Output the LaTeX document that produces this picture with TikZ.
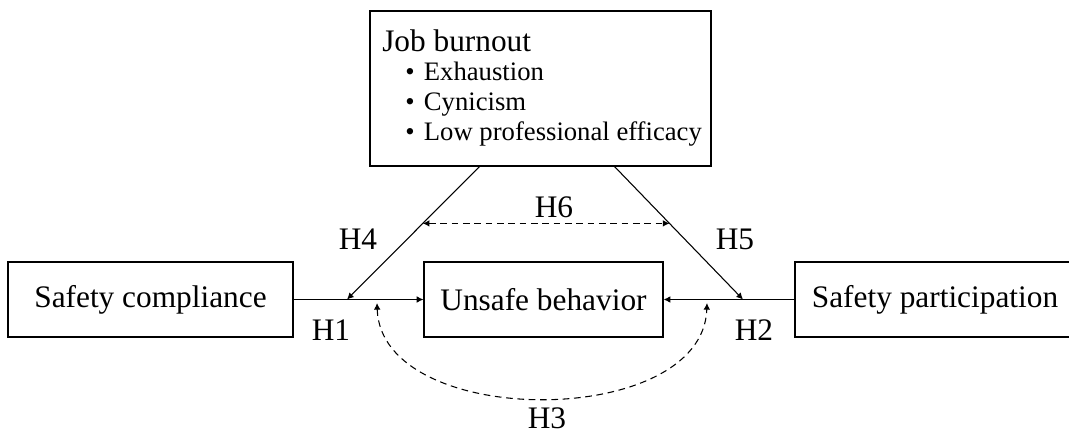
\documentclass[tikz,border=0pt]{standalone}
\usepackage{fontspec}
\setmainfont{Liberation Serif}
\usepackage{tikz}
\usetikzlibrary{arrows.meta}
\usetikzlibrary{positioning}
\usetikzlibrary{calc}

\begin{document}
\begin{tikzpicture} [x=0.75pt, y=-0.75pt,
      box/.style={draw, line width=0.9pt, inner sep=0pt, minimum height=56.25pt,
        font=\fontsize{23.5}{28}\selectfont},
      item/.style={anchor=base west, inner sep=0pt, font=\fontsize{20}{24}\selectfont},
      hlabel/.style={inner sep=0pt, font=\fontsize{23.5}{28}\selectfont},
      arr/.style={line width=0.8pt, -{Latex[length=5pt,width=5pt]}},
      dasharr/.style={line width=0.8pt, dash pattern=on 5pt off 3.5pt,
        {Latex[length=5pt,width=5pt]}-{Latex[length=5pt,width=5pt]}}]
      \useasboundingbox (0,0) rectangle (1069,434);

      \node[box, minimum width=255.75pt, minimum height=116.25pt] (burnout) at (540.5,88.5) {};
      \node[item, font=\fontsize{23.5}{28}\selectfont] (burnhead) at (382,52) {Job burnout};
      \node[item] (exhaust) at (405,81) {\textbullet\hspace{7pt}Exhaustion};
      \node[item] (cynic) at (405,111) {\textbullet\hspace{7pt}Cynicism};
      \node[item] (efficacy) at (405,141) {\textbullet\hspace{7pt}Low professional efficacy};

      \node[box, minimum width=213.75pt] (compliance) at (150.5,299.5) {Safety compliance};
      \node[box, minimum width=179.25pt] (unsafe) at (543.5,299.5) {Unsafe behavior};
      \node[box, minimum width=210pt] (participation) at (935,299.5) {Safety participation};

      \coordinate (b1) at (480,166);
      \coordinate (b2) at (614,166);
      \coordinate (j1) at (347,299.5);
      \coordinate (j2) at (743,299.5);
      \coordinate (h6l) at ($(b1)!0.43!(j1)$);
      \coordinate (h6r) at ($(b2)!0.43!(j2)$);
      \coordinate (c1) at (377,303);
      \coordinate (c2) at (707,303);

      \draw[arr] (compliance.east) -- (unsafe.west);
      \draw[arr] (participation.west) -- (unsafe.east);
      \draw[arr] (b1) -- (j1);
      \draw[arr] (b2) -- (j2);
      \draw[dasharr] (h6l) -- (h6r);
      \draw[dasharr] (c1) .. controls (381,430) and (703,430) .. (c2);

      \node[hlabel] (h1) at (331,330) {H1};
      \node[hlabel] (h2) at (754,330) {H2};
      \node[hlabel] (h3) at (547,418) {H3};
      \node[hlabel] (h4) at (358,239) {H4};
      \node[hlabel] (h5) at (735,239) {H5};
      \node[hlabel] (h6) at (554,207) {H6};
\end{tikzpicture}
\end{document}
